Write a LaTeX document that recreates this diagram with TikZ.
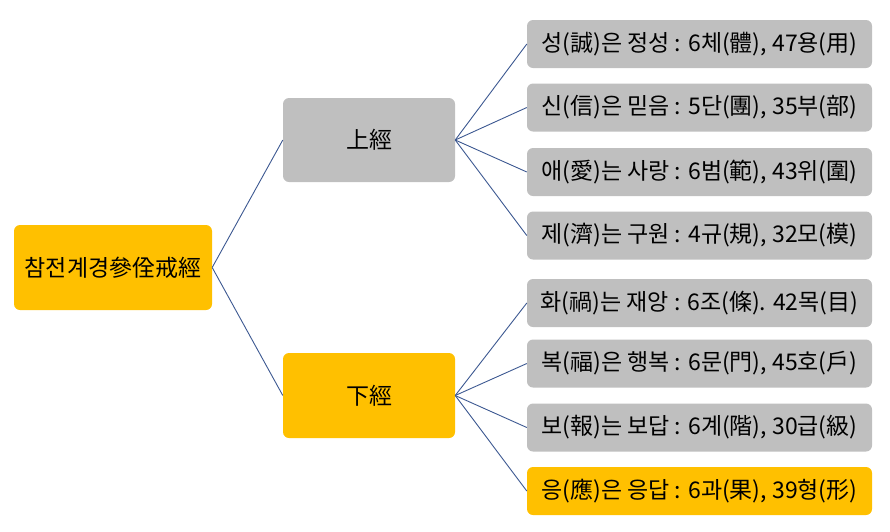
\documentclass[tikz,border=0pt]{standalone}
\usepackage{fontspec}
\setmainfont{Noto Sans CJK KR}
\definecolor{boxgray}{RGB}{191,191,191}
\definecolor{boxgold}{RGB}{255,192,0}
\definecolor{linkblue}{RGB}{60,88,145}
\begin{document}
\begin{tikzpicture}[x=1pt,y=-1pt,
  box/.style={rounded corners=6pt, inner sep=0pt, font=\fontsize{23}{27}\selectfont, text=black},
  graybox/.style={box, fill=boxgray},
  goldbox/.style={box, fill=boxgold},
  leaf/.style={minimum width=345pt, minimum height=48pt},
  mid/.style={minimum width=172pt, minimum height=84pt},
  link/.style={draw=linkblue, line width=0.9pt}]
\useasboundingbox (0,0) rectangle (890,531);
\node[goldbox, minimum width=198pt, minimum height=85pt] (root) at (113,267.5) {참전계경參佺戒經};
\node[graybox, mid] (up) at (369,140) {上經};
\node[goldbox, mid, minimum height=85pt] (down) at (369,395.5) {下經};
\node[graybox, leaf] (l1) at (699.5,44) {성(誠)은 정성 : 6체(體), 47용(用)};
\node[graybox, leaf] (l2) at (699.5,107.5) {신(信)은 믿음 : 5단(團), 35부(部)};
\node[graybox, leaf] (l3) at (699.5,172) {애(愛)는 사랑 : 6범(範), 43위(圍)};
\node[graybox, leaf] (l4) at (699.5,235.5) {제(濟)는 구원 : 4규(規), 32모(模)};
\node[graybox, leaf] (l5) at (699.5,303) {화(禍)는 재앙 : 6조(條). 42목(目)};
\node[graybox, leaf] (l6) at (699.5,363.5) {복(福)은 행복 : 6문(門), 45호(戶)};
\node[graybox, leaf] (l7) at (699.5,427.5) {보(報)는 보답 : 6계(階), 30급(級)};
\node[goldbox, leaf] (l8) at (699.5,491) {응(應)은 응답 : 6과(果), 39형(形)};
\draw[link] (root.east) -- (up.west);
\draw[link] (root.east) -- (down.west);
\foreach \n in {l1,l2,l3,l4} \draw[link] (up.east) -- (\n.west);
\foreach \n in {l5,l6,l7,l8} \draw[link] (down.east) -- (\n.west);
\end{tikzpicture}
\end{document}
